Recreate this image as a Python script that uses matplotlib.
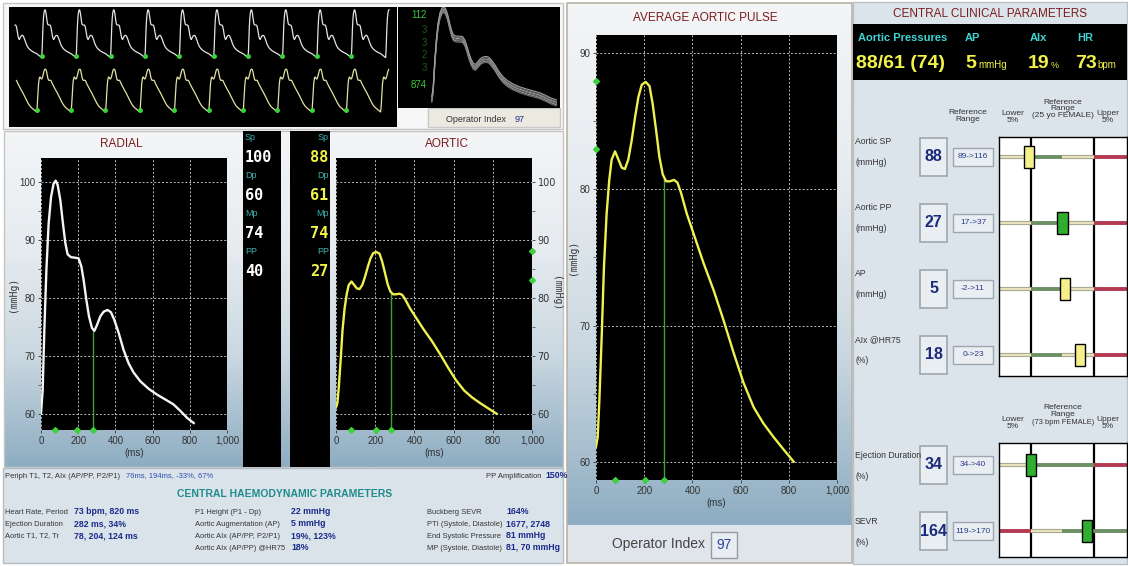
#!/usr/bin/env python

"""
Pulse wave analysis report screen (radial / aortic pressure) redrawn with matplotlib.
"""

import numpy as np
import matplotlib
matplotlib.use("Agg")
import matplotlib.pyplot as plt
from matplotlib import font_manager
from matplotlib.patches import Rectangle
from matplotlib.colors import LinearSegmentedColormap
from matplotlib.transforms import blended_transform_factory
from matplotlib.ticker import MultipleLocator, FuncFormatter

installed = {f.name for f in font_manager.fontManager.ttflist}
NARROW = "Liberation Sans Narrow" if "Liberation Sans Narrow" in installed else "Liberation Sans"
MONO = "DejaVu Sans Mono"

# ---------------------------------------------------------------- data
# averaged radial pulse (ms, mmHg)
radialT = [0, 9, 18, 29, 41, 54, 68, 79, 90, 104, 118, 131, 143, 161, 185, 202, 217, 229, 244, 258,
           274, 287, 301, 319, 337, 358, 376, 394, 418, 444, 471, 498, 534, 579, 624, 677, 713, 749, 785, 821]
radialP = [60.0, 64.1, 74.5, 84.8, 92.8, 97.4, 99.7, 100.2, 99.4, 96.8, 92.8, 89.4, 87.5, 87.0, 86.9, 86.8, 85.4, 83.1, 79.6, 76.8,
           74.8, 74.3, 75.3, 76.8, 77.6, 77.9, 77.5, 76.2, 73.9, 71.0, 68.7, 67.1, 65.6, 64.3, 63.3, 62.3, 61.6, 60.5, 59.3, 58.4]

# derived central (aortic) pulse (ms, mmHg)
aorticT = [0, 7, 14, 24, 33, 44, 55, 65, 79, 93, 107, 120, 134, 148, 162, 176, 190, 206, 222, 235,
           249, 263, 277, 291, 307, 324, 338, 352, 377, 404, 446, 488, 529, 571, 612, 654, 695, 737, 778, 820]
aorticP = [61.1, 61.8, 64.5, 69.4, 74.3, 78.2, 80.7, 82.2, 82.8, 82.2, 81.6, 81.5, 82.2, 83.6, 85.3, 86.8, 87.7, 87.9, 87.6, 86.3,
           84.4, 82.4, 81.1, 80.6, 80.6, 80.7, 80.5, 79.8, 78.2, 76.8, 74.6, 72.6, 70.4, 68.0, 65.8, 64.0, 62.8, 61.8, 60.9, 60.0]

radialMarks = [76, 194, 282]      # T1, T2, ejection duration
aorticMarks = [78, 204, 282]
aorticLevels = [88, 83]           # Sp, P1 level

heartPeriod = 820
stripRadialFoot = 780             # first marked foot in the capture strip (ms)
stripAorticFoot = 660
stripBeats = 10
stripSpan = 9250
stripRadialWindow = (143, 9060)
stripAorticWindow = (167, 9060)
ensembleOffsets = [-1.4, -0.8, -0.3, 0.2, 0.7, 1.3]
operatorIndex = 97

numLabels = ["Sp", "Dp", "Mp", "PP"]
radialNums = [100, 60, 74, 40]
aorticNums = [88, 61, 74, 27]

periphLabel = "Periph T1, T2, AIx (AP/PP, P2/P1)"
periphValue = "76ms, 194ms, -33%, 67%"
ppAmplification = "150%"
col1Labels = ["Heart Rate, Period", "Ejection Duration", "Aortic T1, T2, Tr"]
col1Values = ["73 bpm, 820 ms", "282 ms, 34%", "78, 204, 124 ms"]
col2Labels = ["P1 Height (P1 - Dp)", "Aortic Augmentation (AP)", "Aortic AIx (AP/PP, P2/P1)", "Aortic AIx (AP/PP) @HR75"]
col2Values = ["22 mmHg", "5 mmHg", "19%, 123%", "18%"]
col3Labels = ["Buckberg SEVR", "PTI (Systole, Diastole)", "End Systolic Pressure", "MP (Systole, Diastole)"]
col3Values = ["164%", "1677, 2748", "81 mmHg", "81, 70 mmHg"]

aorticSys, aorticDia, aorticMean = 88, 61, 74
augPressure, augIndex, heartRate = 5, 19, 73

refLabels1 = ["Aortic SP", "Aortic PP", "AP", "AIx @HR75"]
refUnits1 = ["(mmHg)", "(mmHg)", "(mmHg)", "(%)"]
refValues1 = [88, 27, 5, 18]
refLow1 = [89, 17, -2, 0]
refHigh1 = [116, 37, 11, 23]
refMarker1 = ["yellow", "green", "yellow", "yellow"]
refBands1 = [["beige", "green", "beige", "red"]] * 4

refLabels2 = ["Ejection Duration", "SEVR"]
refUnits2 = ["(%)", "(%)"]
refValues2 = [34, 164]
refLow2 = [34, 119]
refHigh2 = [40, 170]
refMarker2 = ["green", "green"]
refBands2 = [["beige", "green", "green", "red"], ["red", "beige", "green", "green"]]

# ---------------------------------------------------------------- layout helpers
W, H = 1128, 566

def box(x0, y0, x1, y1):
    """pixel box (origin top left) -> figure fraction rect"""
    return [x0 / W, 1 - y1 / H, (x1 - x0) / W, (y1 - y0) / H]

fig = plt.figure(figsize=(W / 100, H / 100), dpi=100)
fig.patch.set_facecolor("white")
bg = fig.add_axes([0, 0, 1, 1])
bg.set_axis_off()

panelCmap = LinearSegmentedColormap.from_list("panel", ["#f3f5f7", "#e7ecf0", "#cbd8e1", "#8eadc2"])

def gradient(x0, y0, x1, y1):
    bg.imshow(np.linspace(0, 1, 200).reshape(-1, 1), cmap=panelCmap,
              extent=(x0, x1, y1, y0), aspect="auto", zorder=0)

def rect(x0, y0, x1, y1, fc, ec="none", lw=1.0, z=1):
    bg.add_patch(Rectangle((x0, y0), x1 - x0, y1 - y0, facecolor=fc, edgecolor=ec, lw=lw, zorder=z))

def txt(x, y, s, size=7, color="#333333", ha="left", va="center", family=None, weight="normal", **kw):
    bg.text(x, y, s, fontsize=size, color=color, ha=ha, va=va,
            family=family or NARROW, weight=weight, zorder=5, **kw)

# ---------------------------------------------------------------- backgrounds
rect(3, 3, 563, 129, "#f6f6f6", "#c4c4c4")
gradient(4, 131, 563, 467)
rect(4, 131, 563, 467, "none", "#c4c4c4")
rect(3, 468, 563, 563, "#dae3ea", "#b4bcc4")
gradient(567, 3, 852, 525)
rect(567, 525, 852, 563, "#dfe5ea")
rect(567, 3, 852, 563, "none", "#b9b2a4", lw=1.2)
rect(853, 2, 1127, 564, "#dce4eb", "#b8c0c8")

# black number columns
rect(243, 131, 281, 467, "black", z=2)
rect(290, 131, 330, 467, "black", z=2)
for i, name in enumerate(numLabels):
    y0 = 138 + i * 38
    txt(245, y0, name, size=6.5, color="#3fb3b3")
    txt(245, y0 + 19, str(radialNums[i]), size=11, color="white", family=MONO, weight="bold")
    txt(329, y0, name, size=6.5, color="#3fb3b3", ha="right")
    txt(328, y0 + 19, str(aorticNums[i]), size=11, color="#f2f24a", family=MONO, weight="bold", ha="right")

# titles
txt(121, 144, "RADIAL", size=8.5, color="#7b1c1c", ha="center")
txt(447, 144, "AORTIC", size=8.5, color="#7b1c1c", ha="center")
txt(705, 18, "AVERAGE AORTIC PULSE", size=8.5, color="#7b1c1c", ha="center")
txt(990, 14, "CENTRAL CLINICAL PARAMETERS", size=8.5, color="#7b1c1c", ha="center")

# ---------------------------------------------------------------- capture strip
stripTop = fig.add_axes(box(9, 7, 397, 67))
stripLow = fig.add_axes(box(9, 67, 397, 127))

def stripTrace(ax, t, p, firstFoot, window, colour):
    xs, ys = [], []
    for k in range(-1, stripBeats + 1):
        xs.extend(np.asarray(t) + firstFoot + k * heartPeriod)
        ys.extend(p)
    xs, ys = np.array(xs), np.array(ys)
    keep = (xs >= window[0]) & (xs <= window[1])
    ax.plot(xs[keep], ys[keep], color=colour, lw=0.9)
    feet = firstFoot + heartPeriod * np.arange(stripBeats)
    ax.plot(feet, [p[0]] * stripBeats, "o", color="#3ad43a", ms=2.5)

stripTrace(stripTop, radialT, radialP, stripRadialFoot, stripRadialWindow, "#e4e4e4")
stripTrace(stripLow, aorticT, aorticP, stripAorticFoot, stripAorticWindow, "#e2e2a4")
stripTop.set_ylim(50.3, 102.6)
stripLow.set_ylim(50.2, 89.3)
for ax in (stripTop, stripLow):
    ax.set_xlim(0, stripSpan)
    ax.set_facecolor("black")
    ax.set_xticks([])
    ax.set_yticks([])
    for s in ax.spines.values():
        s.set_visible(False)

# operator index ensemble
rect(398, 7, 428, 108, "black", z=2)
txt(427, 15, "112", size=7, color="#3ac83a", ha="right")
for yy, d in zip([30, 43, 55, 68], ["3", "3", "2", "3"]):
    txt(427, yy, d, size=7, color="#1f5a1f", ha="right")
txt(427, 85, "874", size=7, color="#3ac83a", ha="right")
opAx = fig.add_axes(box(428, 7, 560, 108))
opAx.set_facecolor("black")
for i, off in enumerate(ensembleOffsets):
    opAx.plot(radialT, np.asarray(radialP) + off, color="#a0a0a0" if i % 2 else "#6a6a6a", lw=0.8)
opAx.set_xlim(-25, 845)
opAx.set_ylim(56.1, 101.3)
opAx.set_xticks([])
opAx.set_yticks([])
for s in opAx.spines.values():
    s.set_visible(False)
rect(428, 108, 560, 127, "#ebe9e0", "#c8c8c8")
txt(506, 119, "Operator Index", size=6.5, color="#333333", ha="right")
txt(515, 119, str(operatorIndex), size=6.5, color="#23308a")

# ---------------------------------------------------------------- pulse panels
msTicks = [0, 200, 400, 600, 800, 1000]

def pulsePanel(where, t, p, lineColor, marks, ylim, yticks, levels=None, right=False):
    ax = fig.add_axes(where)
    ax.set_facecolor("black")
    ax.set_xlim(0, 1000)
    ax.set_ylim(*ylim)
    ax.plot(t, p, color=lineColor, lw=1.7, zorder=3)
    ed = marks[-1]
    ax.plot([ed, ed], [ylim[0], np.interp(ed, t, p)], color="#3f9f3f", lw=1.0, zorder=2)
    ax.plot(marks, [ylim[0]] * len(marks), "D", color="#3fcf3f", ms=3, clip_on=False, zorder=4)
    if levels:
        xs = 1000 if right else 0
        ax.plot([xs] * len(levels), levels, "D", color="#3fcf3f", ms=3, clip_on=False, zorder=4)
    ax.set_xticks(msTicks)
    ax.xaxis.set_major_formatter(FuncFormatter(lambda v, _: f"{int(v):,}"))
    ax.set_yticks(yticks)
    ax.yaxis.set_minor_locator(MultipleLocator(5))
    ax.grid(True, color="#bdbdbd", ls=(0, (2, 2)), lw=0.7)
    ax.tick_params(labelsize=7, colors="#333333", length=2.5, width=0.6, pad=1.5)
    ax.tick_params(which="minor", length=2, width=0.6, color="#555555")
    for lab in ax.get_xticklabels() + ax.get_yticklabels():
        lab.set_family(NARROW)
    for s in ax.spines.values():
        s.set_visible(False)
    ax.set_xlabel("(ms)", fontsize=7, family=NARROW, color="#333333", labelpad=2)
    if right:
        ax.yaxis.tick_right()
        ax.yaxis.set_label_position("right")
        ax.set_ylabel("(mmHg)", fontsize=7, family=MONO, rotation=270, labelpad=4, color="#333333")
    else:
        ax.set_ylabel("(mmHg)", fontsize=7, family=MONO, labelpad=1, color="#333333")
    return ax

pulsePanel(box(41, 158, 227, 430), radialT, radialP, "#f4f4f4", radialMarks,
           (57.2, 104.1), [60, 70, 80, 90, 100])
pulsePanel(box(336, 158, 532, 430), aorticT, aorticP, "#f0f050", aorticMarks,
           (57.2, 104.1), [60, 70, 80, 90, 100], levels=aorticLevels, right=True)
pulsePanel(box(596, 35, 837, 480), aorticT, aorticP, "#f0f050", aorticMarks,
           (58.65, 91.35), [60, 70, 80, 90], levels=aorticLevels)

txt(659, 544, "Operator Index", size=10, color="#444444", ha="center")
rect(711, 532, 737, 558, "#e8edf2", "#9a9a9a")
txt(724, 545, str(operatorIndex), size=10, color="#3040a0", ha="center")

# ---------------------------------------------------------------- haemodynamic text block
txt(5, 476, periphLabel, size=5.5)
txt(126, 476, periphValue, size=5.5, color="#3050b0")
txt(486, 476, "PP Amplification", size=5.5)
txt(545, 476, ppAmplification, size=6.3, color="#1a2a8a", weight="bold")
txt(285, 494, "CENTRAL HAEMODYNAMIC PARAMETERS", size=7.5, color="#1f8c8c", weight="bold", ha="center")
rowY = [512, 524, 536, 548]
for labels, values, xl, xv in [(col1Labels, col1Values, 5, 74),
                               (col2Labels, col2Values, 195, 291),
                               (col3Labels, col3Values, 427, 506)]:
    for i in range(len(labels)):
        txt(xl, rowY[i], labels[i], size=5.4)
        txt(xv, rowY[i], values[i], size=6.3, color="#1a2a8a", weight="bold")

# ---------------------------------------------------------------- central clinical parameters
rect(853, 24, 1127, 80, "black", z=2)
cyan, yellow = "#3fd4d4", "#f2f24a"
txt(858, 38, "Aortic Pressures", size=8, color=cyan, weight="bold")
txt(856, 63, f"{aorticSys}/{aorticDia} ({aorticMean})", size=14, color=yellow, weight="bold")
txt(965, 38, "AP", size=8, color=cyan, weight="bold")
txt(965, 63, str(augPressure), size=14, color=yellow, weight="bold")
txt(978, 65, "mmHg", size=7, color=yellow)
txt(1030, 38, "AIx", size=8, color=cyan, weight="bold")
txt(1028, 63, str(augIndex), size=14, color=yellow, weight="bold")
txt(1051, 65, "%", size=6.5, color=yellow)
txt(1077, 38, "HR", size=8, color=cyan, weight="bold")
txt(1075, 63, str(heartRate), size=14, color=yellow, weight="bold")
txt(1097, 65, "bpm", size=7, color=yellow)

hdr = dict(size=6, ha="center", linespacing=0.95)
txt(968, 116, "Reference\nRange", **hdr)
txt(1013, 117, "Lower\n5%", **hdr)
txt(1063, 109, "Reference\nRange\n(25 yo FEMALE)", **hdr)
txt(1108, 117, "Upper\n5%", **hdr)
txt(1063, 411, "Reference\nRange", **hdr)
txt(1063, 422, "(73 bpm FEMALE)", size=5.4, ha="center")
txt(1013, 423, "Lower\n5%", **hdr)
txt(1108, 423, "Upper\n5%", **hdr)

bandEdges = [-0.508, 0.0, 0.5, 1.0, 1.524]
markerColours = {"yellow": "#f6f08c", "green": "#2fae2f"}

def refSection(where, ylim, labels, units, values, lows, highs, markers, bands, labelDy, unitDy):
    ax = fig.add_axes(where)
    ax.set_facecolor("white")
    ax.set_xlim(bandEdges[0], bandEdges[-1])
    ax.set_ylim(*ylim)
    ax.set_xticks([])
    ax.set_yticks([])
    for s in ax.spines.values():
        s.set_color("black")
        s.set_linewidth(1.0)
    ax.axvline(0, color="black", lw=1.6)
    ax.axvline(1, color="black", lw=1.6)
    mix = blended_transform_factory(bg.transData, ax.transData)
    for r in range(len(labels)):
        for j, band in enumerate(bands[r]):
            xs = [bandEdges[j], bandEdges[j + 1]]
            if band == "beige":
                ax.plot(xs, [r, r], color="#a9a98f", lw=3.0, solid_capstyle="butt", zorder=2)
                ax.plot(xs, [r, r], color="#eee8c4", lw=1.3, solid_capstyle="butt", zorder=2)
            elif band == "green":
                ax.plot(xs, [r, r], color="#6e8e64", lw=2.8, solid_capstyle="butt", zorder=2)
            else:
                ax.plot(xs, [r, r], color="#b23a52", lw=2.8, solid_capstyle="butt", zorder=2)
        pos = (values[r] - lows[r]) / (highs[r] - lows[r])
        ax.add_patch(Rectangle((pos - 0.08, r - 0.165), 0.16, 0.33, facecolor=markerColours[markers[r]],
                               edgecolor="black", lw=1.0, zorder=4, clip_on=False))
        # value and reference boxes to the left of the chart
        ax.add_patch(Rectangle((920, r - 0.29), 27, 0.58, transform=mix, facecolor="#e9eef3",
                               edgecolor="#9ea6ae", lw=1.2, clip_on=False))
        ax.text(933.5, r, str(values[r]), transform=mix, fontsize=11.5, family=NARROW, weight="bold",
                color="#1c2a7c", ha="center", va="center", clip_on=False)
        ax.add_patch(Rectangle((953, r - 0.14), 40, 0.28, transform=mix, facecolor="#e9eef3",
                               edgecolor="#9ea6ae", lw=1.0, clip_on=False))
        ax.text(973, r, f"{lows[r]}->{highs[r]}", transform=mix, fontsize=6, family=NARROW,
                color="#2a3a8a", ha="center", va="center", clip_on=False)
        ax.text(855, r + labelDy, labels[r], transform=mix, fontsize=6.2, family=NARROW,
                color="#333333", ha="left", va="center", clip_on=False)
        ax.text(855, r + unitDy, units[r], transform=mix, fontsize=6.2, family=NARROW,
                color="#333333", ha="left", va="center", clip_on=False)
    return ax

refSection(box(999, 137, 1127, 376), (3.32, -0.30), refLabels1, refUnits1, refValues1,
           refLow1, refHigh1, refMarker1, refBands1, -0.23, 0.08)
refSection(box(999, 443, 1127, 557), (1.39, -0.33), refLabels2, refUnits2, refValues2,
           refLow2, refHigh2, refMarker2, refBands2, -0.14, 0.17)

bg.set_xlim(0, W)
bg.set_ylim(H, 0)

fig.savefig("out.png", dpi=100, facecolor=fig.get_facecolor())
